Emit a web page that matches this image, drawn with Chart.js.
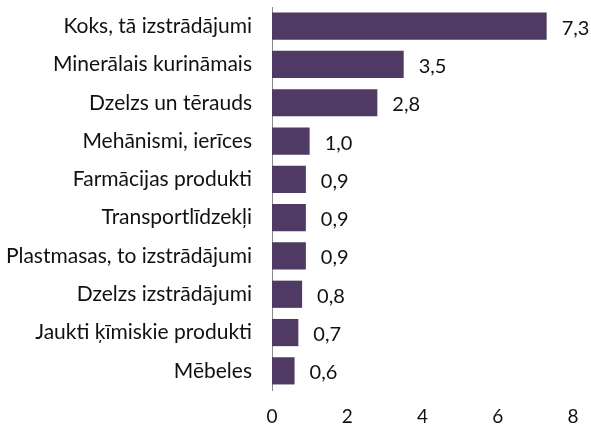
<!DOCTYPE html>
<html><head><meta charset="utf-8">
<script src="https://cdn.jsdelivr.net/npm/chart.js@4/dist/chart.umd.min.js"></script>
<style>html,body{margin:0;padding:0;background:#fff;}</style>
</head><body>
<canvas id="c" width="591" height="425"></canvas>
<script>
const categories = ["Koks, tā izstrādājumi","Minerālais kurināmais","Dzelzs un tērauds","Mehānismi, ierīces","Farmācijas produkti","Transportlīdzekļi","Plastmasas, to izstrādājumi","Dzelzs izstrādājumi","Jaukti ķīmiskie produkti","Mēbeles"];
const values = [7.3,3.5,2.8,1.0,0.9,0.9,0.9,0.8,0.7,0.6];
const xTicks = [0,2,4,6,8];

const FONT = "Lato, 'Open Sans', sans-serif";
const labelPlugin = {
  id:'vals',
  afterDatasetsDraw(chart){
    const ctx = chart.ctx;
    const meta = chart.getDatasetMeta(0);
    ctx.save();
    ctx.font = "20px " + FONT;
    ctx.fillStyle = "#111";
    ctx.textAlign = "left";
    ctx.textBaseline = "middle";
    meta.data.forEach((bar,i)=>{
      ctx.fillText(values[i].toFixed(1).replace('.',','), bar.x + 15, bar.y + 2);
    });
    ctx.restore();
  }
};

new Chart(document.getElementById('c'), {
  type:'bar',
  data:{labels:categories, datasets:[{data:values, backgroundColor:'#4e3a62', borderWidth:0, categoryPercentage:1, barPercentage:0.71}]},
  options:{
    indexAxis:'y', responsive:false, animation:false,
    layout:{padding:{top:7,right:18,bottom:0,left:0}},
    plugins:{legend:{display:false}, tooltip:{enabled:false}},
    scales:{
      x:{min:0,max:8,
        afterBuildTicks(s){ s.ticks = xTicks.map(v=>({value:v})); },
        afterFit(s){ s.height = 35; s.paddingLeft = 0; s.paddingRight = 0; },
        grid:{display:false, drawTicks:false}, border:{display:false},
        ticks:{padding:15, color:'#111', font:{size:19, family:FONT}}},
      y:{
        afterFit(s){ s.width = 272; s.paddingTop = 0; s.paddingBottom = 0; },
        grid:{display:false, drawTicks:false}, border:{display:true, color:'#8a8a8a', width:1},
        ticks:{padding:20, color:'#111', font:{size:21, family:FONT}, autoSkip:false}}
    }
  },
  plugins:[labelPlugin]
});
</script>
</body></html>
